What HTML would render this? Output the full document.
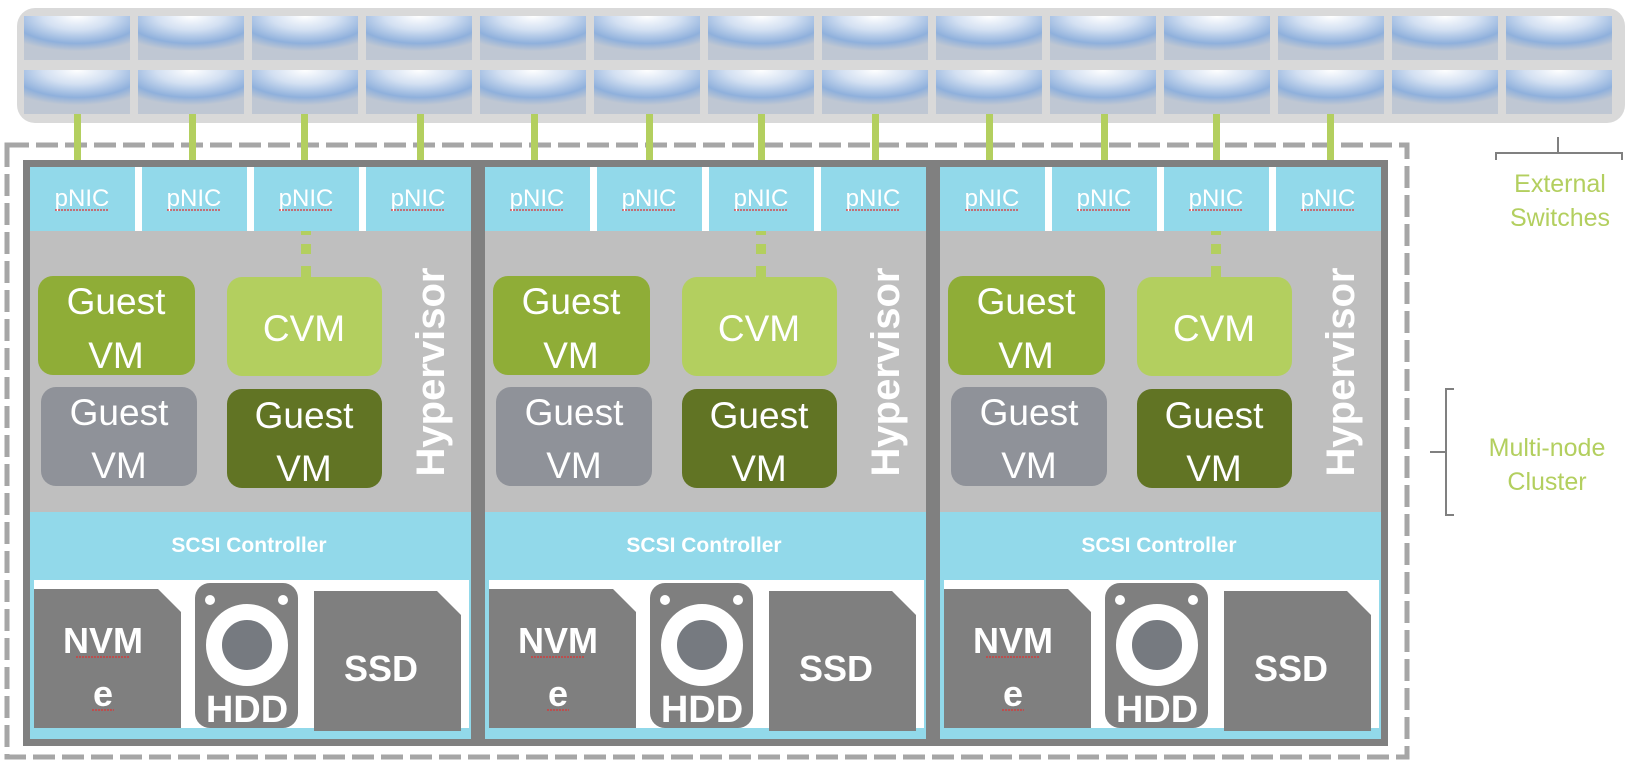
<!DOCTYPE html>
<html><head><meta charset="utf-8"><style>html,body{margin:0;padding:0;background:#fff;}svg{display:block;}</style></head>
<body>
<svg width="1631" height="768" viewBox="0 0 1631 768" xmlns="http://www.w3.org/2000/svg" font-family="Liberation Sans, DejaVu Sans, sans-serif">
<defs>
<radialGradient id="sw" cx="50%" cy="0%" r="80%" fx="50%" fy="0%">
<stop offset="0" stop-color="#ffffff"/>
<stop offset="0.4" stop-color="#d3e0f2"/>
<stop offset="0.78" stop-color="#8fb0dc"/>
<stop offset="1" stop-color="#bfc7d3"/>
</radialGradient>
<g id="node">
<rect x="3.5" y="3.5" width="448" height="579" fill="#92d9ea" stroke="#808080" stroke-width="7"/>
<rect x="7" y="71" width="441" height="281" fill="#bfbfbf"/>
<rect x="112" y="7" width="7" height="64" fill="#fff"/>
<rect x="224" y="7" width="7" height="64" fill="#fff"/>
<rect x="336" y="7" width="7" height="64" fill="#fff"/>
<g font-size="24" fill="#fff" text-anchor="middle">
<text x="59" y="46">pNIC</text><text x="171" y="46">pNIC</text><text x="283" y="46">pNIC</text><text x="395" y="46">pNIC</text>
</g>
<g stroke="#e03030" stroke-width="1.2" stroke-dasharray="2 1">
<line x1="32" y1="50" x2="86" y2="50"/><line x1="144" y1="50" x2="198" y2="50"/><line x1="256" y1="50" x2="310" y2="50"/><line x1="368" y1="50" x2="422" y2="50"/>
</g>
<rect x="278" y="71" width="10" height="4" fill="#b3cf5f"/>
<rect x="278" y="84" width="10" height="10" fill="#b3cf5f"/>
<rect x="278" y="106" width="10" height="11" fill="#b3cf5f"/>
<rect x="15" y="116" width="157" height="99" rx="15" fill="#8fad37"/>
<rect x="204" y="117" width="155" height="99" rx="15" fill="#b3cf5f"/>
<rect x="18" y="227" width="156" height="99" rx="15" fill="#8f9299"/>
<rect x="204" y="229" width="155" height="99" rx="15" fill="#617424"/>
<g font-size="37" fill="#fff" text-anchor="middle">
<text x="93" y="154">Guest</text><text x="93" y="208">VM</text>
<text x="281" y="181">CVM</text>
<text x="96" y="265">Guest</text><text x="96" y="318">VM</text>
<text x="281" y="268">Guest</text><text x="281" y="321">VM</text>
</g>
<text transform="translate(421,212) rotate(-90)" font-size="40" font-weight="bold" fill="#fff" text-anchor="middle" textLength="209" lengthAdjust="spacingAndGlyphs">Hypervisor</text>
<text x="226" y="392" font-size="21" font-weight="bold" fill="#fff" text-anchor="middle">SCSI Controller</text>
<rect x="11" y="420" width="435" height="148" fill="#fff"/>
<path d="M11 429 H135 L158 452 V568 H11 Z" fill="#7f7f7f"/>
<rect x="172" y="423" width="103" height="145" rx="15" fill="#7f7f7f"/>
<circle cx="187" cy="440" r="5" fill="#fff"/><circle cx="260" cy="440" r="5" fill="#fff"/>
<circle cx="224" cy="485" r="33" fill="#767a80" stroke="#fff" stroke-width="16"/>
<text x="224" y="562" font-size="38" font-weight="bold" fill="#fff" text-anchor="middle">HDD</text>
<path d="M291 431 H414 L438 455 V571 H291 Z" fill="#7f7f7f"/>
<g font-size="36" font-weight="bold" fill="#fff" text-anchor="middle">
<text x="80" y="493">NVM</text><text x="80" y="546">e</text>
<text x="358" y="521">SSD</text>
</g>
<g stroke="#e03030" stroke-width="1.2" stroke-dasharray="2 1">
<line x1="53" y1="497" x2="106" y2="497"/><line x1="69" y1="550" x2="91" y2="550"/>
</g>
</g>
</defs>
<rect x="17" y="8" width="1608" height="115" rx="18" fill="#d9d9d9"/>
<g fill="url(#sw)">
<rect x="24" y="16" width="106" height="44"/><rect x="138" y="16" width="106" height="44"/><rect x="252" y="16" width="106" height="44"/><rect x="366" y="16" width="106" height="44"/><rect x="480" y="16" width="106" height="44"/><rect x="594" y="16" width="106" height="44"/><rect x="708" y="16" width="106" height="44"/><rect x="822" y="16" width="106" height="44"/><rect x="936" y="16" width="106" height="44"/><rect x="1050" y="16" width="106" height="44"/><rect x="1164" y="16" width="106" height="44"/><rect x="1278" y="16" width="106" height="44"/><rect x="1392" y="16" width="106" height="44"/><rect x="1506" y="16" width="106" height="44"/>
<rect x="24" y="70" width="106" height="44"/><rect x="138" y="70" width="106" height="44"/><rect x="252" y="70" width="106" height="44"/><rect x="366" y="70" width="106" height="44"/><rect x="480" y="70" width="106" height="44"/><rect x="594" y="70" width="106" height="44"/><rect x="708" y="70" width="106" height="44"/><rect x="822" y="70" width="106" height="44"/><rect x="936" y="70" width="106" height="44"/><rect x="1050" y="70" width="106" height="44"/><rect x="1164" y="70" width="106" height="44"/><rect x="1278" y="70" width="106" height="44"/><rect x="1392" y="70" width="106" height="44"/><rect x="1506" y="70" width="106" height="44"/>
</g>
<rect x="7" y="145" width="1400" height="612" fill="none" stroke="#a6a6a6" stroke-width="5" stroke-dasharray="22 7"/>
<g fill="#b3cf5f">
<rect x="74" y="114" width="7" height="46"/><rect x="189" y="114" width="7" height="46"/><rect x="301" y="114" width="7" height="46"/><rect x="417" y="114" width="7" height="46"/>
<rect x="531" y="114" width="7" height="46"/><rect x="646" y="114" width="7" height="46"/><rect x="758" y="114" width="7" height="46"/><rect x="872" y="114" width="7" height="46"/>
<rect x="986" y="114" width="7" height="46"/><rect x="1101" y="114" width="7" height="46"/><rect x="1213" y="114" width="7" height="46"/><rect x="1327" y="114" width="7" height="46"/>
</g>
<use href="#node" transform="translate(23,160)"/>
<use href="#node" transform="translate(478,160)"/>
<use href="#node" transform="translate(933,160)"/>
<g fill="none" stroke="#808080" stroke-width="2">
<path d="M1496 160 V153 H1622 V160 M1558 153 V137"/>
<path d="M1454 389 H1446 V515 H1454 M1446 452 H1430"/>
</g>
<g font-size="25" fill="#b3cf5f" text-anchor="middle">
<text x="1560" y="192">External</text><text x="1560" y="226">Switches</text>
<text x="1547" y="456">Multi-node</text><text x="1547" y="490">Cluster</text>
</g>
</svg>
</body></html>
